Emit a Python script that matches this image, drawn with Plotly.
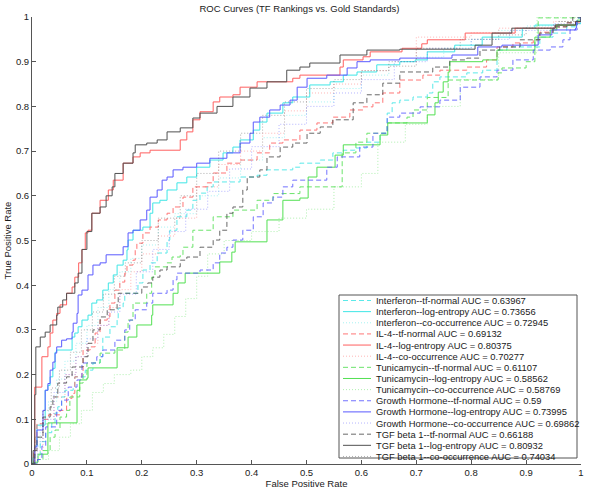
import plotly.graph_objects as go

# ROC points (false positive rate, true positive rate)
ifn_tf = [(0, 0), (0.005, 0.02), (0.015, 0.05), (0.025, 0.07), (0.036, 0.092), (0.042, 0.114), (0.047, 0.128),
          (0.054, 0.15), (0.06, 0.165), (0.075, 0.172), (0.078, 0.195), (0.097, 0.21), (0.111, 0.226), (0.124, 0.24),
          (0.129, 0.284), (0.142, 0.307), (0.155, 0.322), (0.157, 0.349), (0.166, 0.36), (0.169, 0.382), (0.193, 0.405),
          (0.202, 0.434), (0.215, 0.45), (0.228, 0.472), (0.246, 0.501), (0.251, 0.523), (0.264, 0.553), (0.282, 0.568),
          (0.293, 0.59), (0.306, 0.606), (0.319, 0.62), (0.33, 0.631), (0.379, 0.642), (0.41, 0.646), (0.428, 0.658),
          (0.475, 0.664), (0.488, 0.673), (0.525, 0.68), (0.548, 0.696), (0.567, 0.702), (0.588, 0.707), (0.61, 0.72),
          (0.634, 0.74), (0.647, 0.785), (0.656, 0.808), (0.67, 0.814), (0.694, 0.821), (0.72, 0.83), (0.73, 0.855),
          (0.743, 0.866), (0.792, 0.875), (0.821, 0.881), (0.847, 0.926), (0.865, 0.933), (0.925, 0.955), (0.949, 0.964),
          (0.974, 0.978), (0.993, 0.998), (1, 1)]
ifn_log = [(0, 0), (0.002, 0.015), (0.005, 0.04), (0.009, 0.087), (0.024, 0.165), (0.029, 0.176), (0.033, 0.195),
           (0.038, 0.214), (0.042, 0.25), (0.045, 0.255), (0.073, 0.284), (0.078, 0.293), (0.084, 0.307), (0.091, 0.322),
           (0.102, 0.333), (0.109, 0.36), (0.118, 0.367), (0.129, 0.389), (0.139, 0.405), (0.148, 0.423), (0.155, 0.445),
           (0.166, 0.456), (0.173, 0.479), (0.175, 0.501), (0.184, 0.523), (0.202, 0.53), (0.215, 0.561), (0.22, 0.584),
           (0.233, 0.59), (0.246, 0.613), (0.264, 0.629), (0.282, 0.642), (0.3, 0.664), (0.324, 0.68), (0.348, 0.696),
           (0.366, 0.709), (0.379, 0.725), (0.403, 0.747), (0.415, 0.765), (0.428, 0.785), (0.457, 0.808), (0.475, 0.821),
           (0.506, 0.848), (0.543, 0.855), (0.567, 0.87), (0.592, 0.877), (0.628, 0.893), (0.67, 0.9), (0.698, 0.904),
           (0.72, 0.922), (0.77, 0.937), (0.82, 0.955), (0.893, 0.975), (0.916, 0.982), (0.99, 0.985), (1, 1)]
ifn_co = [(0, 0), (0.005, 0.04), (0.015, 0.09), (0.03, 0.14), (0.045, 0.19), (0.06, 0.23), (0.08, 0.27), (0.1, 0.31),
          (0.12, 0.35), (0.14, 0.39), (0.16, 0.43), (0.18, 0.46), (0.2, 0.49), (0.23, 0.53), (0.26, 0.56), (0.3, 0.6),
          (0.34, 0.64), (0.38, 0.68), (0.42, 0.73), (0.46, 0.78), (0.5, 0.81), (0.55, 0.84), (0.6, 0.87), (0.65, 0.89),
          (0.7, 0.91), (0.75, 0.93), (0.8, 0.95), (0.85, 0.97), (0.9, 0.98), (0.96, 0.99), (1, 1)]

il4_tf = [(0, 0), (0.003, 0.03), (0.005, 0.06), (0.009, 0.09), (0.02, 0.1), (0.03, 0.11), (0.051, 0.12), (0.063, 0.147),
          (0.073, 0.158), (0.078, 0.195), (0.091, 0.203), (0.093, 0.255), (0.106, 0.262), (0.115, 0.293), (0.124, 0.322),
          (0.137, 0.329), (0.142, 0.36), (0.151, 0.389), (0.16, 0.407), (0.169, 0.427), (0.173, 0.445), (0.184, 0.456),
          (0.188, 0.479), (0.191, 0.494), (0.202, 0.517), (0.215, 0.53), (0.23, 0.546), (0.246, 0.561), (0.257, 0.575),
          (0.275, 0.597), (0.293, 0.62), (0.319, 0.629), (0.33, 0.651), (0.355, 0.673), (0.379, 0.68), (0.41, 0.696),
          (0.433, 0.718), (0.457, 0.725), (0.488, 0.747), (0.519, 0.763), (0.548, 0.776), (0.579, 0.792), (0.603, 0.799),
          (0.621, 0.808), (0.639, 0.83), (0.67, 0.859), (0.712, 0.87), (0.743, 0.881), (0.792, 0.888), (0.828, 0.904),
          (0.847, 0.933), (0.876, 0.942), (0.913, 0.949), (0.925, 0.966), (0.949, 0.978), (0.974, 0.987), (1, 1)]
il4_log = [(0, 0), (0.005, 0.172), (0.018, 0.24), (0.029, 0.262), (0.033, 0.293), (0.038, 0.322), (0.045, 0.337),
           (0.051, 0.356), (0.063, 0.382), (0.073, 0.396), (0.078, 0.418), (0.085, 0.45), (0.091, 0.48), (0.097, 0.517),
           (0.102, 0.523), (0.109, 0.561), (0.124, 0.59), (0.139, 0.613), (0.148, 0.635), (0.166, 0.673), (0.184, 0.687),
           (0.197, 0.696), (0.215, 0.702), (0.27, 0.725), (0.282, 0.743), (0.293, 0.77), (0.306, 0.788), (0.33, 0.81),
           (0.342, 0.821), (0.366, 0.826), (0.379, 0.843), (0.41, 0.855), (0.475, 0.863), (0.488, 0.87), (0.561, 0.888),
           (0.567, 0.904), (0.603, 0.911), (0.616, 0.922), (0.674, 0.93), (0.71, 0.94), (0.72, 0.949), (0.789, 0.964),
           (0.88, 0.975), (0.953, 0.982), (0.99, 0.99), (1, 1)]
il4_co = [(0, 0), (0.005, 0.03), (0.02, 0.09), (0.04, 0.15), (0.06, 0.2), (0.08, 0.24), (0.1, 0.27), (0.12, 0.31),
          (0.14, 0.35), (0.16, 0.39), (0.18, 0.43), (0.2, 0.47), (0.23, 0.51), (0.26, 0.55), (0.3, 0.62), (0.34, 0.67),
          (0.38, 0.7), (0.42, 0.74), (0.46, 0.79), (0.5, 0.83), (0.55, 0.85), (0.6, 0.88), (0.65, 0.89), (0.7, 0.955),
          (0.8, 0.965), (0.85, 0.975), (0.95, 0.99), (1, 1)]

tun_tf = [(0, 0), (0.01, 0.01), (0.02, 0.03), (0.033, 0.06), (0.042, 0.076), (0.051, 0.105), (0.063, 0.12), (0.069, 0.15),
          (0.087, 0.181), (0.093, 0.2), (0.1, 0.226), (0.124, 0.248), (0.151, 0.255), (0.169, 0.295), (0.175, 0.322),
          (0.184, 0.36), (0.209, 0.382), (0.218, 0.418), (0.224, 0.441), (0.246, 0.45), (0.255, 0.463), (0.27, 0.468),
          (0.275, 0.485), (0.293, 0.523), (0.33, 0.553), (0.366, 0.568), (0.41, 0.59), (0.439, 0.605), (0.488, 0.62),
          (0.565, 0.696), (0.59, 0.72), (0.61, 0.74), (0.647, 0.763), (0.683, 0.776), (0.694, 0.792), (0.72, 0.82),
          (0.758, 0.859), (0.849, 0.875), (0.856, 0.886), (0.9, 0.9), (0.916, 0.949), (0.922, 0.998), (1, 1)]
tun_log = [(0, 0), (0.002, 0.004), (0.011, 0.022), (0.029, 0.092), (0.082, 0.165), (0.087, 0.188), (0.1, 0.192),
           (0.102, 0.215), (0.155, 0.26), (0.175, 0.284), (0.191, 0.311), (0.218, 0.333), (0.22, 0.356), (0.257, 0.382),
           (0.266, 0.405), (0.279, 0.427), (0.342, 0.452), (0.364, 0.474), (0.37, 0.497), (0.428, 0.546), (0.457, 0.59),
           (0.488, 0.595), (0.503, 0.642), (0.519, 0.664), (0.552, 0.691), (0.567, 0.714), (0.634, 0.736), (0.648, 0.763),
           (0.72, 0.781), (0.734, 0.808), (0.74, 0.832), (0.749, 0.855), (0.758, 0.877), (0.761, 0.9), (0.821, 0.904),
           (0.847, 0.926), (0.916, 0.955), (0.944, 0.971), (0.956, 0.982), (0.993, 0.993), (1, 1)]
tun_co = [(0, 0), (0.01, 0.01), (0.03, 0.03), (0.05, 0.06), (0.07, 0.09), (0.09, 0.12), (0.11, 0.16), (0.13, 0.18),
          (0.15, 0.2), (0.18, 0.21), (0.2, 0.24), (0.22, 0.26), (0.24, 0.29), (0.26, 0.33), (0.28, 0.37), (0.3, 0.42),
          (0.32, 0.47), (0.35, 0.5), (0.4, 0.52), (0.45, 0.55), (0.5, 0.57), (0.55, 0.62), (0.6, 0.65), (0.63, 0.72),
          (0.68, 0.76), (0.72, 0.8), (0.78, 0.86), (0.85, 0.92), (0.92, 1.0), (1, 1)]

gh_tf = [(0, 0), (0.01, 0.01), (0.018, 0.04), (0.025, 0.083), (0.045, 0.12), (0.054, 0.143), (0.066, 0.172),
         (0.082, 0.188), (0.091, 0.226), (0.118, 0.24), (0.129, 0.255), (0.151, 0.277), (0.169, 0.3), (0.178, 0.322),
         (0.188, 0.345), (0.209, 0.36), (0.22, 0.382), (0.246, 0.389), (0.257, 0.412), (0.264, 0.427), (0.306, 0.434),
         (0.33, 0.45), (0.342, 0.472), (0.355, 0.485), (0.366, 0.501), (0.384, 0.523), (0.403, 0.553), (0.421, 0.584),
         (0.439, 0.597), (0.457, 0.62), (0.475, 0.635), (0.537, 0.664), (0.556, 0.687), (0.597, 0.709), (0.621, 0.74),
         (0.647, 0.776), (0.67, 0.785), (0.707, 0.799), (0.743, 0.814), (0.78, 0.843), (0.816, 0.866), (0.847, 0.881),
         (0.876, 0.904), (0.913, 0.926), (0.944, 0.933), (0.967, 0.949), (0.98, 0.971), (0.993, 0.998), (1, 1)]
gh_log = [(0, 0), (0.005, 0.038), (0.009, 0.076), (0.02, 0.12), (0.024, 0.165), (0.029, 0.18), (0.033, 0.21),
          (0.038, 0.228), (0.042, 0.248), (0.045, 0.262), (0.054, 0.277), (0.063, 0.28), (0.073, 0.295), (0.075, 0.315),
          (0.082, 0.337), (0.084, 0.378), (0.091, 0.389), (0.102, 0.423), (0.111, 0.445), (0.124, 0.45), (0.135, 0.468),
          (0.166, 0.486), (0.175, 0.517), (0.184, 0.523), (0.197, 0.546), (0.209, 0.568), (0.215, 0.597), (0.228, 0.613),
          (0.237, 0.635), (0.246, 0.642), (0.257, 0.658), (0.275, 0.664), (0.3, 0.673), (0.324, 0.684), (0.355, 0.696),
          (0.379, 0.718), (0.397, 0.74), (0.403, 0.765), (0.415, 0.776), (0.433, 0.792), (0.452, 0.803), (0.47, 0.814),
          (0.483, 0.843), (0.501, 0.863), (0.537, 0.87), (0.574, 0.886), (0.592, 0.9), (0.616, 0.904), (0.67, 0.908),
          (0.765, 0.915), (0.812, 0.933), (0.856, 0.937), (0.922, 0.96), (0.947, 0.971), (0.99, 0.975), (0.992, 0.99),
          (1, 1)]
gh_co = [(0, 0), (0.01, 0.05), (0.02, 0.1), (0.04, 0.16), (0.06, 0.2), (0.08, 0.24), (0.1, 0.28), (0.12, 0.31),
         (0.14, 0.34), (0.16, 0.38), (0.19, 0.43), (0.22, 0.48), (0.25, 0.52), (0.28, 0.57), (0.32, 0.61), (0.36, 0.66),
         (0.4, 0.71), (0.45, 0.76), (0.5, 0.8), (0.55, 0.83), (0.6, 0.86), (0.66, 0.9), (0.72, 0.93), (0.8, 0.95),
         (0.87, 0.97), (0.95, 0.985), (1, 1)]

tgf_tf = [(0, 0), (0.005, 0.03), (0.009, 0.06), (0.02, 0.105), (0.033, 0.128), (0.038, 0.15), (0.047, 0.181),
          (0.063, 0.195), (0.073, 0.217), (0.093, 0.24), (0.102, 0.27), (0.111, 0.3), (0.124, 0.329), (0.137, 0.345),
          (0.155, 0.36), (0.157, 0.382), (0.2, 0.396), (0.211, 0.405), (0.22, 0.418), (0.233, 0.434), (0.246, 0.441),
          (0.27, 0.456), (0.282, 0.463), (0.306, 0.485), (0.33, 0.501), (0.342, 0.523), (0.355, 0.561), (0.366, 0.575),
          (0.384, 0.613), (0.392, 0.642), (0.415, 0.658), (0.428, 0.687), (0.452, 0.709), (0.475, 0.718), (0.501, 0.74),
          (0.525, 0.754), (0.548, 0.77), (0.585, 0.808), (0.61, 0.826), (0.639, 0.852), (0.67, 0.877), (0.73, 0.888),
          (0.761, 0.904), (0.792, 0.908), (0.816, 0.926), (0.852, 0.933), (0.889, 0.949), (0.925, 0.964), (0.949, 0.978),
          (0.974, 0.987), (0.985, 1.0), (1, 1)]
tgf_log = [(0, 0), (0.002, 0.03), (0.005, 0.155), (0.007, 0.262), (0.015, 0.284), (0.024, 0.295), (0.033, 0.311),
           (0.045, 0.333), (0.047, 0.351), (0.056, 0.367), (0.063, 0.382), (0.078, 0.405), (0.084, 0.427), (0.091, 0.48),
           (0.1, 0.52), (0.109, 0.561), (0.124, 0.575), (0.135, 0.6), (0.146, 0.62), (0.151, 0.65), (0.166, 0.673),
           (0.184, 0.696), (0.188, 0.714), (0.209, 0.718), (0.228, 0.725), (0.246, 0.743), (0.27, 0.752), (0.293, 0.774),
           (0.306, 0.785), (0.337, 0.8), (0.366, 0.821), (0.397, 0.841), (0.428, 0.855), (0.464, 0.881), (0.488, 0.888),
           (0.506, 0.897), (0.561, 0.915), (0.61, 0.926), (0.67, 0.928), (0.807, 0.937), (0.838, 0.964), (0.874, 0.975),
           (0.953, 0.982), (0.99, 0.99), (1, 1)]
tgf_co = [(0, 0), (0.005, 0.06), (0.02, 0.12), (0.035, 0.17), (0.05, 0.21), (0.07, 0.25), (0.09, 0.3), (0.11, 0.34),
          (0.13, 0.38), (0.15, 0.42), (0.17, 0.45), (0.2, 0.5), (0.23, 0.55), (0.27, 0.6), (0.3, 0.65), (0.34, 0.7),
          (0.38, 0.74), (0.42, 0.78), (0.46, 0.81), (0.5, 0.84), (0.55, 0.86), (0.6, 0.88), (0.65, 0.9), (0.7, 0.93),
          (0.78, 0.95), (0.85, 0.96), (0.9, 0.975), (0.96, 0.99), (1, 1)]

datasets = ["Interferon", "IL-4", "Tunicamycin", "Growth Hormone", "TGF beta 1"]
methods = ["tf-normal", "log-entropy", "co-occurrence"]
curves = [
    [ifn_tf, ifn_log, ifn_co],
    [il4_tf, il4_log, il4_co],
    [tun_tf, tun_log, tun_co],
    [gh_tf, gh_log, gh_co],
    [tgf_tf, tgf_log, tgf_co],
]
auc = [
    ["0.63967", "0.73656", "0.72945"],
    ["0.69132", "0.80375", "0.70277"],
    ["0.61107", "0.58562", "0.58769"],
    ["0.59", "0.73995", "0.69862"],
    ["0.66188", "0.80932", "0.74034"],
]

colors = ["#3fe6e6", "#ff5f5f", "#52e052", "#5a5aff", "#505050"]
dashes = ["5px,3px", "solid", "1px,2px"]
# dotted curves read much fainter than the others in the reference
opacities = [0.85, 1.0, 0.45]

FONT = "Liberation Sans, Arial, sans-serif"
W, H = 600, 491
ML, MR, MT, MB = 32, 19, 17, 27
PW, PH = W - ML - MR, H - MT - MB


def px_x(p):
    return (p - ML) / PW


def px_y(p):
    return (H - MB - p) / PH


fig = go.Figure()
for d, name in enumerate(datasets):
    for m, meth in enumerate(methods):
        pts = curves[d][m]
        fig.add_trace(go.Scatter(
            x=[p[0] for p in pts],
            y=[p[1] for p in pts],
            mode="lines",
            line=dict(color=colors[d], width=1, dash=dashes[m], shape="hv"),
            opacity=opacities[m],
            name=f"{name}--{meth} AUC = {auc[d][m]}",
            showlegend=False,
            hoverinfo="skip",
        ))

# MATLAB-style compact legend, drawn by hand
shapes = [dict(type="rect", xref="paper", yref="paper",
               x0=px_x(339), x1=px_x(577), y0=px_y(458), y1=px_y(295),
               line=dict(color="#555555", width=1), fillcolor="white", layer="above")]
annotations = []
row = 0
for d, name in enumerate(datasets):
    for m, meth in enumerate(methods):
        yy = px_y(300.5 + 11.14 * row)
        shapes.append(dict(type="line", xref="paper", yref="paper",
                           x0=px_x(343), x1=px_x(371), y0=yy, y1=yy, opacity=opacities[m],
                           line=dict(color=colors[d], width=1, dash=dashes[m])))
        annotations.append(dict(xref="paper", yref="paper", x=px_x(374), y=yy,
                                xanchor="left", yanchor="middle", showarrow=False,
                                text=f"{name}--{meth} AUC = {auc[d][m]}",
                                font=dict(family=FONT, size=9.4, color="#1a1a1a")))
        row += 1

fig.update_layout(
    width=W, height=H,
    margin=dict(l=ML, r=MR, t=MT, b=MB, autoexpand=False),
    paper_bgcolor="white", plot_bgcolor="white",
    font=dict(family=FONT, size=9.5, color="#1a1a1a"),
    title=dict(text="ROC Curves (TF Rankings vs. Gold Standards)", x=px_x(306), xanchor="center",
               y=1 - 9 / H, yanchor="middle", font=dict(size=9.5)),
    shapes=shapes,
    annotations=annotations,
    showlegend=False,
)
axis_style = dict(range=[0, 1], dtick=0.1, showgrid=False, zeroline=False, showline=True,
                  linecolor="#555555", linewidth=1, ticks="inside", ticklen=4, tickcolor="#555555",
                  tickfont=dict(size=9.5, color="#1a1a1a"), mirror=False, automargin=False)
fig.update_xaxes(**axis_style, title=dict(text="False Positive Rate", standoff=1, font=dict(size=9.5)))
fig.update_yaxes(**axis_style, title=dict(text="True Positive Rate", standoff=2, font=dict(size=9.5)))

# drop the browser's default page margin so the figure sits at the top-left corner
fig.write_html("out.html", config={"displayModeBar": False},
               post_script="document.body.style.margin='0';")
